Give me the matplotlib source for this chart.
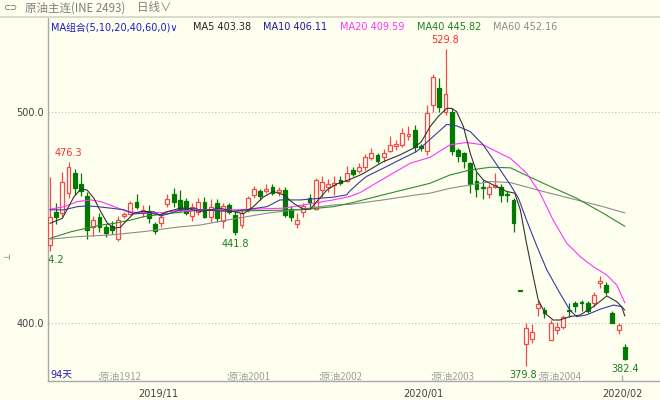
import matplotlib.pyplot as plt
from matplotlib.lines import Line2D

# --- daily candles (index 0 = first visible day) ---
opens = [437, 452.5, 452, 461.5, 471, 466, 460, 445.3, 450, 445.5,
         446, 439.7, 450.5, 451.7, 457.5, 452, 453.2, 447, 447.3, 456.4,
         461, 458.3, 457.8, 450.5, 452.5, 457.5, 450.4, 456.7, 448.5, 456,
         451.2, 446.4, 453.6, 460.7, 462.3, 462.3, 464.4, 462, 463, 453.9,
         446.9, 452.8, 459.1, 453.9, 463.1, 464.4, 465.5, 467.8, 467.4, 472.3,
         472.2, 474.1, 478, 479.6, 478.5, 481.7, 484, 484.4, 488.5, 491.5,
         483.9, 481.7, 503.3, 511.2, 500.1, 500.1, 482, 480.4, 476, 467.4,
         464.3, 461.1, 464.2, 464.6, 461, 458.3, 415.3, 390, 392.3, 407,
         406.2, 392, 396.7, 398.2, 406.3, 409.6, 410, 409.6, 409.6, 418.8,
         418, 404.9, 396.7, 388.8]
highs = [469, 457, 471.5, 476.3, 473, 471, 462, 450.5, 452, 447,
         448.5, 450.5, 452.5, 457.8, 461, 456, 456, 448, 452, 461,
         464, 463, 459, 457, 459, 459.9, 458.6, 458.6, 456.7, 457,
         453.6, 454, 460.2, 464.9, 463.5, 465.9, 466, 464.5, 464.5, 455.5,
         452, 456.7, 461.1, 468.5, 469.5, 468, 469.5, 469.5, 474.5, 474,
         476, 480, 482.8, 480.5, 482.5, 488.6, 486.7, 492.3, 493.4, 493.8,
         485, 503.3, 518, 516, 529.8, 501.8, 482.8, 481.2, 476.5, 471.7,
         467.8, 466, 471, 466, 462.3, 459.1, 415.3, 399.9, 399.5, 410.9,
         407.8, 401.4, 400.6, 404, 409.6, 410.5, 410.9, 410.5, 414.8, 422.3,
         419.6, 405.5, 400.2, 390]
lows = [434.2, 447, 450, 459, 460.5, 460, 440, 441, 443, 440.5,
        442, 439, 449.5, 451, 454, 450, 447.5, 442, 445.5, 455,
        455, 452.8, 451, 448.5, 451, 449.6, 448, 448, 444.9, 451.5,
        441.8, 445, 452.8, 459.1, 458.5, 461.5, 460.5, 460, 450, 448.5,
        444.9, 450.1, 455.1, 453.5, 459.5, 462, 460.5, 465.5, 467, 469.5,
        471, 472.5, 477.3, 476, 476.5, 481.2, 482, 483.6, 486.7, 481.2,
        481.5, 479.6, 500.1, 500.1, 498.6, 479.6, 476.4, 473.3, 461.5, 459.9,
        458.7, 459, 464, 457.5, 457.5, 443.3, 415.3, 379.8, 390.4, 403.3,
        402.2, 392, 395, 397, 403, 405, 405.5, 404.5, 407.4, 416.4,
        413.3, 399.9, 395, 382.4]
closes = [450, 450, 467, 474, 464, 462.5, 444, 448.8, 445.6, 442.5,
          444, 448.8, 451.5, 456.7, 455, 453.5, 449.5, 443.5, 450.4, 458.6,
          457.5, 453.5, 452.2, 455, 457.5, 450.4, 455.1, 449.6, 455.5, 452.8,
          443.3, 452.3, 459.1, 463.4, 460.2, 463.4, 461.8, 463, 451.2, 450.4,
          448.8, 455.5, 457.5, 467.8, 467, 466, 466.5, 466.2, 471, 470.6,
          474.1, 478.8, 480.4, 476.9, 480.4, 484.4, 485, 489.9, 489.5, 483.6,
          482.8, 499.7, 516.4, 502.5, 508.5, 481.7, 479.1, 476.9, 465.7, 463.4,
          463.8, 464.4, 465.5, 460.7, 460.5, 447.2, 415.3, 397.5, 395.6, 409,
          404.9, 400, 398, 403, 405.8, 408.1, 409.6, 405.8, 413.3, 419.9,
          414.8, 400, 399, 383]

# --- moving averages (day index, value) ---
ma5_x = [0, 2, 3.9, 5, 6, 7.1, 8.2, 9.3, 10.4, 11.4, 12.5, 13.6, 14.7, 15.7,
         16.8, 17.9, 19, 20.1, 21.1, 22.2, 23.3, 24.3, 27.5, 29.7, 31.3, 32.9,
         34.5, 36.1, 37.8, 39.4, 41, 42.1, 43.4, 44.8, 46.4, 48, 50.2, 51.2,
         53.9, 56.6, 58.8, 60.1, 61.5, 62.8, 64.2, 65, 65.8, 66.9, 68, 69,
         70.1, 71.7, 73.9, 75.2, 76.1, 77.1, 78.2, 79, 80.1, 81.4, 82.5, 84.1,
         85.8, 87.9, 90.1, 91.7, 92.5, 93]
ma5_y = [447.2, 449.6, 459.9, 463.4, 463, 459.1, 452.8, 447.2, 444.9, 445.4,
         448.8, 452, 452.8, 452.8, 451.7, 451.2, 452.8, 453.6, 454.4, 454.4,
         453.5, 452.8, 454.4, 452.8, 451.7, 455.1, 459.6, 462.3, 460.7, 456.7,
         453.9, 453.9, 458.3, 463, 465.9, 467.4, 470.1, 471.7, 476.4, 479.6,
         482.8, 485.9, 493, 497.8, 501.7, 501.7, 500.1, 493, 480.4, 471.7,
         467.8, 465.4, 462.3, 461.5, 453.6, 437.8, 421.9, 410.9, 404.6, 401.4,
         401.4, 403, 403.8, 407.7, 412.8, 410.1, 407.7, 403.38]
ma10_x = [0, 2.3, 4.4, 6, 7.7, 9.8, 12, 13.6, 15.2, 16.8, 17.9, 19.5, 21.1,
          23.3, 24.3, 29.7, 35.1, 37.2, 40.5, 45.8, 48, 48.5, 50.2, 51.2,
          53.9, 56.6, 59.3, 62, 64.2, 65.8, 68, 70.1, 72.3, 74.5, 75.8, 77.1,
          78.8, 80.4, 82.5, 84.1, 85.2, 86.8, 89, 91.2, 92.5, 93]
ma10_y = [453.6, 453.6, 455.1, 455.5, 455.1, 454.4, 453.6, 451.7, 452, 452.8,
          450.7, 452, 453.6, 454.4, 453.6, 452.8, 455.1, 458.3, 458.3, 459.6,
          460.7, 462.5, 467, 469.4, 473.3, 477.3, 481.2, 488.3, 494.1, 493.4,
          490.7, 484.4, 474.9, 465.4, 459.1, 448.8, 436.2, 425.1, 414.1, 406.2,
          403, 403.8, 406.5, 408.5, 407.7, 406.11]
ma20_x = [0, 2.3, 4.4, 6.6, 8.2, 10.4, 12.5, 15.2, 18.1, 20.6, 23.3, 24.3,
          29.7, 37.8, 42.6, 45.8, 48.5, 50.2, 51.8, 55, 58.3, 61.5, 64.7,
          67.4, 70.1, 72.8, 74.5, 77.1, 79.3, 81.4, 83.6, 85.8, 87.9, 90.1,
          91.7, 93]
ma20_y = [453.9, 455.1, 457.5, 458.3, 457.5, 455.1, 452.8, 452, 452.3, 453.2,
          453.2, 453.6, 453.6, 454.4, 456.7, 458.3, 459.9, 461.8, 464.6, 470.1,
          475.7, 478.5, 484.4, 485.5, 484.4, 480.4, 478, 471, 461.5, 448.8,
          437.8, 431.4, 426.7, 422.7, 418, 409.59]
ma40_x = [0, 3.5, 6, 8.2, 10.4, 13.1, 15.2, 18.1, 20.6, 24.4, 29.1, 40.5,
          45.8, 48.5, 53.9, 59.3, 61.5, 64.7, 68, 71.3, 74.5, 79.8, 85.2,
          89.5, 93]
ma40_y = [440.1, 443.3, 444.9, 446.4, 447.2, 448.8, 450.4, 451.5, 452.3, 453.6,
          453, 453.6, 455.1, 456.7, 460.7, 464.6, 466.2, 470.1, 472.5, 473.8,
          473.5, 466.2, 459.1, 452, 445.82]
ma60_x = [0, 4.4, 9.8, 15.2, 20.6, 24.3, 29.1, 35.1, 40.5, 45.8, 48.5, 53.9,
          59.3, 61.5, 64.7, 68, 71.3, 74.5, 79.8, 85.2, 89.5, 93]
ma60_y = [439.7, 440.9, 441.7, 443.3, 445.4, 446.4, 449, 452, 453.9, 455.9,
          456.2, 458.3, 460.7, 461.5, 463.8, 465.4, 467, 466.5, 462.3, 458.3,
          455.1, 452.16]

ma_names = ['MA5', 'MA10', 'MA20', 'MA40', 'MA60']
ma_last = ['403.38', '406.11', '409.59', '445.82', '452.16']

# highest / lowest marks
mark_idx = [3, 64, 30, 77, 93, 0]
mark_val = [476.3, 529.8, 441.8, 379.8, 382.4, 434.2]
mark_high = [True, True, False, False, False, False]

# contract rolls and month labels
roll_idx = [7.6, 28.5, 43.4, 61.5, 78.9]
roll_lbl = [':原油1912', ':原油2001', ':原油2002', ':原油2003', ':原油2004']
month_idx = [17.5, 60.4, 92.6]
month_lbl = ['2019/11', '2020/01', '2020/02']

BG = '#fffff0'
UP = '#f24a4a'
DOWN = '#007a00'
CJK = ['Noto Sans CJK SC', 'DejaVu Sans']
LAT = ['DejaVu Sans', 'Noto Sans CJK SC']

fig = plt.figure(figsize=(6.6, 4.0), dpi=100, facecolor=BG)
ax = fig.add_axes([48 / 660, 19 / 400, 612 / 660, 363 / 400])
ax.set_facecolor(BG)

# candles
for i in range(len(opens)):
    o, h, l, c = opens[i], highs[i], lows[i], closes[i]
    up = c > o
    col = UP if up else DOWN
    ax.vlines(i, l, h, color=col, lw=0.9, zorder=2)
    bottom = min(o, c)
    height = max(abs(c - o), 0.35)
    ax.bar(i, height, bottom=bottom, width=0.62,
           facecolor=BG if up else DOWN, edgecolor=col, lw=0.9, zorder=3)

# moving averages
ax.plot(ma60_x, ma60_y, color='#8c8c8c', lw=0.8, zorder=4)
ax.plot(ma40_x, ma40_y, color='#2e8b2e', lw=0.8, zorder=4)
ax.plot(ma20_x, ma20_y, color='#ff33ff', lw=0.8, zorder=4)
ax.plot(ma10_x, ma10_y, color='#3a3aa0', lw=0.8, zorder=4)
ax.plot(ma5_x, ma5_y, color='#333333', lw=0.8, zorder=4)

# high / low labels
for i, v, hi in zip(mark_idx, mark_val, mark_high):
    dx = -2 if v == 379.8 else 0
    ax.annotate(f'{v:.1f}', (i, v), xytext=(dx, 3 if hi else -3),
                textcoords='offset points', ha='center',
                va='bottom' if hi else 'top', fontsize=7,
                color='#ff2a2a' if hi else '#1e7a1e', clip_on=True, zorder=6)

ax.set_xlim(-0.32, 98.7)
ax.set_ylim(372.5, 544.5)

for s in ['top', 'right']:
    ax.spines[s].set_visible(False)
for s in ['left', 'bottom']:
    ax.spines[s].set_color('#a8a8a8')
    ax.spines[s].set_linewidth(1.0)

ax.set_yticks([400, 500])
ax.set_yticklabels(['400.0', '500.0'])
ax.tick_params(axis='y', length=0, pad=3, labelsize=7, labelcolor='#404040')
ax.yaxis.grid(True, linestyle=(0, (1, 2)), color='#bdbdbd', lw=0.8)

ax.set_xticks(month_idx)
ax.set_xticklabels(month_lbl)
ax.tick_params(axis='x', length=0, pad=6, labelsize=7, labelcolor='#404040')
# only the latest month carries a visible tick mark
ax.vlines(month_idx[-1], 372.5, 375.5, color='#b0b0b0', lw=1.0, zorder=5)

for i, t in zip(roll_idx, roll_lbl):
    ax.text(i, 374.5, t, fontsize=7, color='#a0a0a0', family=CJK,
            ha='left', va='center', zorder=5)
ax.text(0.004, 0.017, '94天', transform=ax.transAxes, fontsize=7,
        color='#2020b0', family=LAT, ha='left', va='center')

# header bar
fig.add_artist(Line2D([0, 1], [1 - 17 / 400] * 2, color='#d4d4c4', lw=1.2))
fig.text(3 / 660, 1 - 8 / 400, '⊂⊃', fontsize=6, color='#606060',
         va='center', family=LAT)
fig.text(25 / 660, 1 - 8 / 400, '原油主连(INE 2493)', fontsize=8.3,
         color='#808080', va='center', family=CJK)
fig.text(137 / 660, 1 - 8 / 400, '日线∨', fontsize=8.3, color='#808080',
         va='center', family=CJK)
fig.text(2 / 660, 1 - 258 / 400, '⊣', fontsize=6, color='#505050',
         va='center', family=LAT)

# MA legend row
leg_x = [193, 263, 340, 417, 493]
leg_c = ['#222222', '#1a1a99', '#ff33ff', '#208020', '#8c8c8c']
fig.text(51 / 660, 1 - 27 / 400, 'MA组合(5,10,20,40,60,0)∨', fontsize=7,
         color='#1a1acc', va='center', family=LAT)
for x, n, v, c in zip(leg_x, ma_names, ma_last, leg_c):
    fig.text(x / 660, 1 - 27 / 400, f'{n} {v}', fontsize=7, color=c,
             va='center', family=LAT)

fig.savefig('out.png', dpi=100, facecolor=BG)
